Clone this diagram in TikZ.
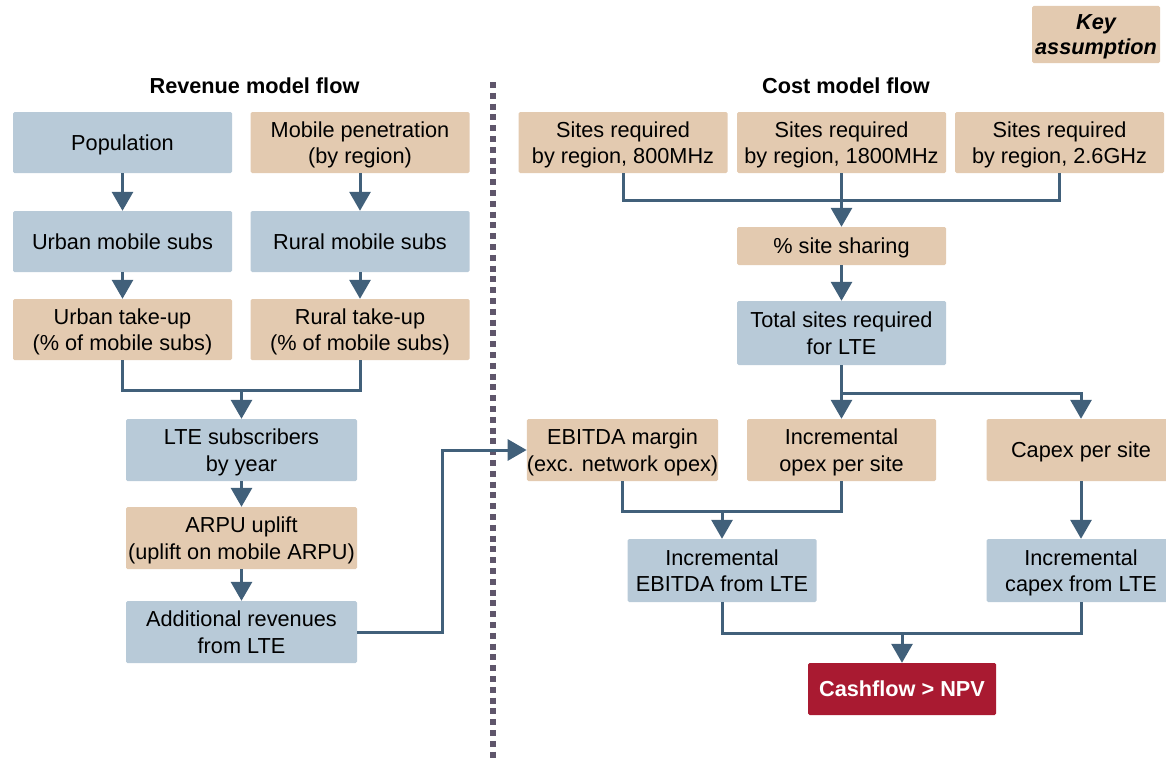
\documentclass[tikz,border=0pt]{standalone}
\usepackage{fontspec}
\setmainfont{Liberation Sans}
\usetikzlibrary{arrows.meta}

\definecolor{calcblue}{HTML}{B8CAD8}
\definecolor{keytan}{HTML}{E3CAB0}
\definecolor{linkblue}{HTML}{41607A}
\definecolor{npvred}{HTML}{A91A31}
\definecolor{dotgrey}{HTML}{5F566B}

\tikzset{
    box/.style={rounded corners=1.5pt, align=center, inner sep=0pt, text depth=0pt,
        font=\fontsize{21.7}{26.5}\selectfont},
    calc/.style={box, fill=calcblue},
    assume/.style={box, fill=keytan},
    leftbox/.style={minimum width=219pt, minimum height=61pt},
    midbox/.style={minimum width=231pt, minimum height=62pt},
    costbox/.style={minimum width=189pt, minimum height=62pt},
    sitebox/.style={minimum width=209pt, minimum height=61pt},
    heading/.style={font=\fontsize{21.7}{26}\selectfont\bfseries},
    link/.style={draw=linkblue, line width=3pt},
    flow/.style={link, -{Triangle[width=21pt,length=19pt]}},
}

\begin{document}
\begin{tikzpicture}[x=1pt,y=-1pt]
            \useasboundingbox (0,0) rectangle (1166,760);
            % key
            \node[assume, minimum width=128pt, minimum height=57pt,
                font=\fontsize{21.7}{24.5}\selectfont\bfseries\itshape] (key) at (1096,34.5) {Key\\assumption};
            \draw[dotgrey, line width=6pt, dash pattern=on 6pt off 4.8pt] (493,82) -- (493,760);

            % revenue model
            \node[heading] (revhead) at (254.5,86) {Revenue model flow};
            \node[calc, leftbox] (pop) at (122.5,142.5) {Population};
            \node[assume, leftbox] (pen) at (360,142.5) {Mobile penetration\\(by region)};
            \node[calc, leftbox] (urb) at (122.5,241.5) {Urban mobile subs};
            \node[calc, leftbox] (rur) at (360,241.5) {Rural mobile subs};
            \node[assume, leftbox] (urbtk) at (122.5,329.5) {Urban take-up\\(\% of mobile subs)};
            \node[assume, leftbox] (rurtk) at (360,329.5) {Rural take-up\\(\% of mobile subs)};
            \node[calc, midbox] (lte) at (241.5,450) {LTE subscribers\\by year};
            \node[assume, midbox] (arpu) at (241.5,538) {ARPU uplift\\(uplift on mobile ARPU)};
            \node[calc, midbox] (addrev) at (241.5,632) {Additional revenues\\from LTE};

            \draw[flow] (pop) -- (urb);
            \draw[flow] (pen) -- (rur);
            \draw[flow] (urb) -- (urbtk);
            \draw[flow] (rur) -- (rurtk);
            \coordinate (revjoin) at (241.5,390);
            \draw[link] (urbtk.south) |- (revjoin) -| (rurtk.south);
            \draw[flow] (revjoin) -- (lte.north);
            \draw[flow] (lte) -- (arpu);
            \draw[flow] (arpu) -- (addrev);

            % cost model
            \node[heading] (costhead) at (846,86) {Cost model flow};
            \foreach \x/\name/\band in {623/s800/800MHz,841.5/s1800/1800MHz,1059.5/s26/2.6GHz}{
                \node[assume, sitebox] (\name) at (\x,142.5) {Sites required\\by region, \band};
            }
            \node[assume, minimum width=209pt, minimum height=38pt] (share) at (841.5,246) {\% site sharing};
            \node[calc, minimum width=209pt, minimum height=64pt] (total) at (841.5,333) {Total sites required\\for LTE};
            \node[assume, costbox] (ebm) at (622.5,450) {EBITDA margin\\(exc. network opex)};
            \node[assume, costbox] (incop) at (841.5,450) {Incremental\\opex per site};
            \node[assume, costbox] (capex) at (1081,450) {Capex per site};
            \node[calc, costbox, minimum height=63pt] (incebitda) at (722,570.5) {Incremental\\EBITDA from LTE};
            \node[calc, costbox, minimum height=63pt] (inccapex) at (1081,570.5) {Incremental\\capex from LTE};
            \node[box, fill=npvred, text=white, minimum width=188pt, minimum height=52pt,
                font=\fontsize{21.7}{26}\selectfont\bfseries] (cash) at (902,689) {Cashflow > NPV};

            \coordinate (sitejoin) at (841.5,200);
            \draw[link] (s800.south) |- (sitejoin) -| (s26.south);
            \draw[flow] (s1800.south) -- (share.north);
            \draw[flow] (share) -- (total);
            \coordinate (totjoin) at (841.5,393);
            \draw[flow] (total.south) -- (incop.north);
            \draw[flow] (totjoin) -| (capex.north);
            \coordinate (ebjoin) at (722,511);
            \draw[link] (ebm.south) |- (ebjoin) -| (incop.south);
            \draw[flow] (ebjoin) -- (incebitda.north);
            \draw[flow] (capex) -- (inccapex);
            \coordinate (cashjoin) at (902,633);
            \draw[link] (incebitda.south) |- (cashjoin) -| (inccapex.south);
            \draw[flow] (cashjoin) -- (cash.north);

            \draw[flow] (addrev.east) -- ++(85,0) |- (ebm.west);
        \end{tikzpicture}
\end{document}
